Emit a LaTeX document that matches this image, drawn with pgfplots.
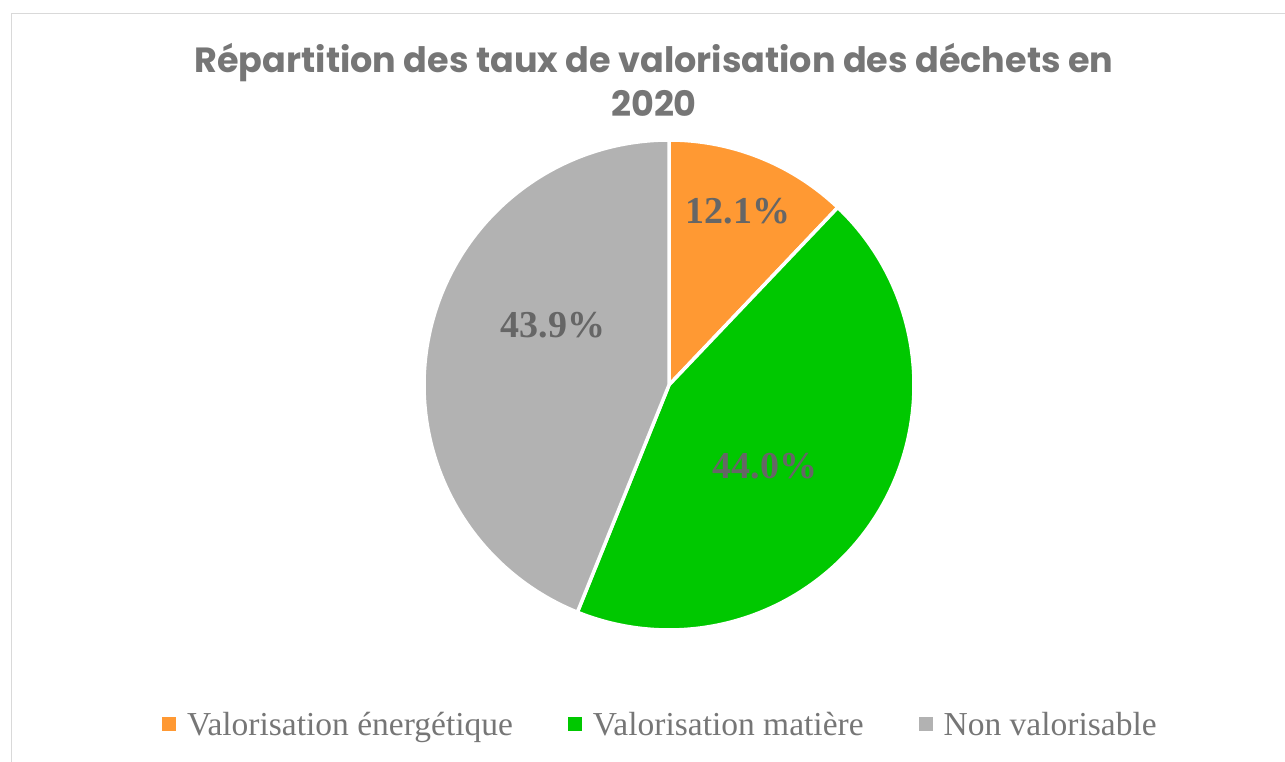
\documentclass[border=0pt]{standalone}
\usepackage{fontspec}
\setmainfont{Liberation Serif}
\newfontfamily\titlefont{Poppins}
\usepackage{pgfplots}
\usepackage{pgfplotstable}
\pgfplotsset{compat=1.18}
\definecolor{cOrange}{RGB}{255,153,51}
\definecolor{cGreen}{RGB}{0,200,0}
\definecolor{cGray}{RGB}{178,178,178}
\definecolor{cTitle}{RGB}{118,118,118}
\definecolor{cLabel}{RGB}{102,102,102}
\definecolor{cLegend}{RGB}{118,118,118}
\definecolor{cFrame}{RGB}{217,217,217}
% shares in percent
\pgfplotstableread{
name share
energetique 12.1
matiere 44.0
nonvalo 43.9
}\sharetable
\begin{document}
\begin{tikzpicture}
\useasboundingbox (0pt,0pt) rectangle (1285pt,762pt);
\draw[cFrame, line width=1.5pt] (11.5pt,0pt) -- (11.5pt,748.5pt) -- (1290pt,748.5pt);
\node[font=\titlefont\bfseries\fontsize{35}{44}\selectfont, text=cTitle, align=center, anchor=center] at (654pt,682pt) {Répartition des taux de valorisation des déchets en\\2020};
\begin{axis}[
  at={(669pt,377pt)}, anchor=center,
  width=490pt, height=490pt, scale only axis,
  xmin=-1, xmax=1, ymin=-1, ymax=1,
  hide axis, clip=false,
  legend columns=3,
  legend style={at={(-0.535,-0.1926)}, anchor=west, draw=none, fill=none, inner sep=0pt,
    font=\fontsize{33.5}{38}\selectfont, text=cLegend,
    /tikz/every even column/.append style={column sep=53pt}},
  legend cell align=left,
  legend image code/.code={\fill[#1, draw=none] (0pt,-7pt) rectangle (14pt,7pt); \path[draw=none, fill=none] (0pt,0pt) -- (23pt,0pt);},
]
\addplot[fill=cOrange, draw=white, line width=3.5pt, domain={90-3.6*12.1}:90, samples=60, variable=\t]
  ({cos(\t)},{sin(\t)}) -- (axis cs:0,0) -- cycle;
\addlegendentry{Valorisation énergétique}
\addplot[fill=cGreen, draw=white, line width=3.5pt, domain={90-3.6*(12.1+44.0)}:{90-3.6*12.1}, samples=120, variable=\t]
  ({cos(\t)},{sin(\t)}) -- (axis cs:0,0) -- cycle;
\addlegendentry{Valorisation matière}
\addplot[fill=cGray, draw=white, line width=3.5pt, domain={90-3.6*(12.1+44.0+43.9)}:{90-3.6*(12.1+44.0)}, samples=120, variable=\t]
  ({cos(\t)},{sin(\t)}) -- (axis cs:0,0) -- cycle;
\addlegendentry{Non valorisable}
\node[font=\bfseries\fontsize{38}{40}\selectfont, text=cLabel] at (axis cs:{(738-669)/245},{(385-211)/245}) {12.1\%};
\node[font=\bfseries\fontsize{38}{40}\selectfont, text=cLabel] at (axis cs:{(765-669)/245},{(385-466)/245}) {44.0\%};
\node[font=\bfseries\fontsize{38}{40}\selectfont, text=cLabel] at (axis cs:{(553-669)/245},{(385-325)/245}) {43.9\%};
\end{axis}
\end{tikzpicture}
\end{document}
